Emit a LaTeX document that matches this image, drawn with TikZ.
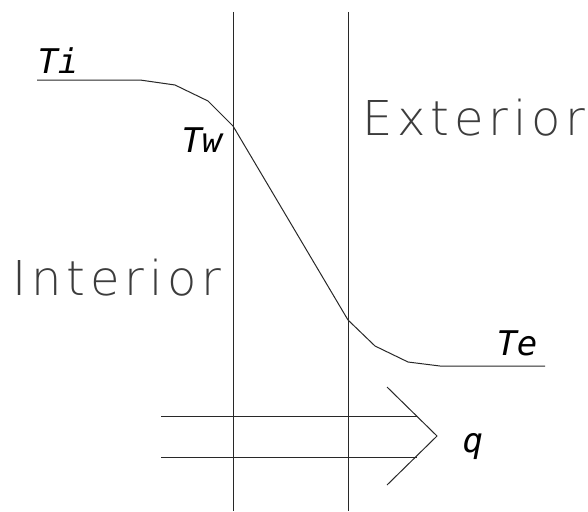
\documentclass[tikz,border=0pt]{standalone}
\usepackage{fontspec}
\newfontfamily\labelfont{DejaVu Sans Mono}
\newfontfamily\zonefont[LetterSpace=10]{DejaVu Sans ExtraLight}
\definecolor{linegray}{RGB}{40, 40, 40}
\definecolor{textgray}{RGB}{60, 60, 60}

\begin{document}
\begin{tikzpicture}[x=1pt, y=-1pt, line width=1pt,
    wall/.style={draw=linegray},
    profile/.style={draw=linegray, line join=round},
    templabel/.style={anchor=base west, inner sep=0pt, font=\labelfont\itshape\fontsize{34}{34}\selectfont},
    zonelabel/.style={anchor=base west, inner sep=0pt, text=textgray, font=\zonefont\fontsize{48}{48}\selectfont}]
  \useasboundingbox (0,0) rectangle (588,511);
  % wall faces
  \coordinate (inTop) at (233,12);
  \coordinate (inBot) at (233,511);
  \coordinate (exTop) at (348,12);
  \coordinate (exBot) at (348,511);
  \draw[wall] (inTop) -- (inBot);
  \draw[wall] (exTop) -- (exBot);
  % temperature profile
  \coordinate (ti) at (37,80);
  \coordinate (a1) at (140,80);
  \coordinate (a2) at (175,85);
  \coordinate (a3) at (208,101);
  \coordinate (tw) at (233,126);
  \coordinate (ts) at (348,320);
  \coordinate (b1) at (375,346);
  \coordinate (b2) at (408,362);
  \coordinate (b3) at (440,366);
  \coordinate (te) at (545,366);
  \draw[profile] (ti) -- (a1) -- (a2) -- (a3) -- (tw) -- (ts) -- (b1) -- (b2) -- (b3) -- (te);
  % heat flow
  \coordinate (qa1) at (161,416);
  \coordinate (qa2) at (417,416);
  \coordinate (qb1) at (161,457);
  \coordinate (qb2) at (417,457);
  \coordinate (hTop) at (387,387);
  \coordinate (hTip) at (437,436);
  \coordinate (hBot) at (387,485);
  \draw[wall] (qa1) -- (qa2);
  \draw[wall] (qb1) -- (qb2);
  \draw[wall] (hTop) -- (hTip) -- (hBot);
  % labels
  \node[templabel] (tiLbl) at (37,73) {Ti};
  \node[templabel] (twLbl) at (181,152) {Tw};
  \node[templabel] (teLbl) at (496,355) {Te};
  \node[templabel] (qLbl) at (462,452) {q};
  \node[zonelabel] (extLbl) at (362,135) {Exterior};
  \node[zonelabel] (intLbl) at (12,295) {Interior};
\end{tikzpicture}
\end{document}
